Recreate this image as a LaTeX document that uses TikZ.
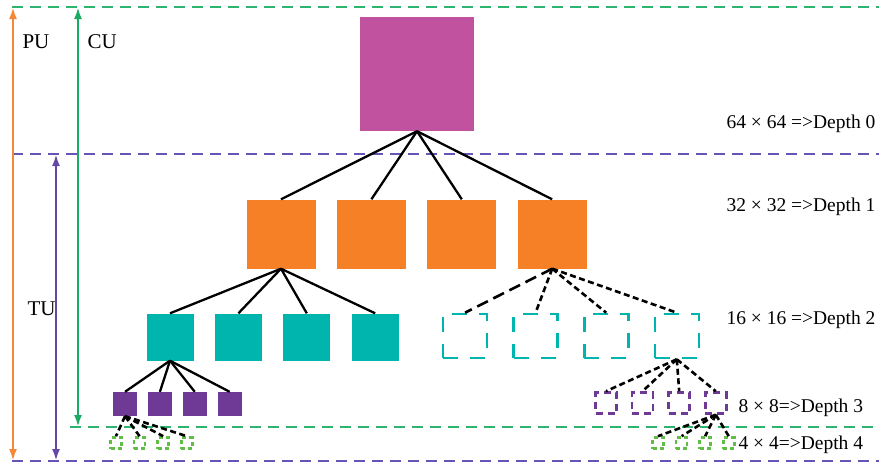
\documentclass[tikz,border=0pt]{standalone}
\usepackage{fontspec}
\setmainfont{Liberation Serif}
\usetikzlibrary{arrows.meta,positioning}
\definecolor{ctumagenta}{RGB}{193,82,160}
\definecolor{ctuorange}{RGB}{245,128,37}
\definecolor{ctuteal}{RGB}{0,181,173}
\definecolor{ctupurple}{RGB}{111,57,150}
\definecolor{leafgreen}{RGB}{96,190,72}
\definecolor{levelgreen}{RGB}{45,180,110}
\definecolor{levelpurple}{RGB}{104,84,182}
\definecolor{puorange}{RGB}{245,135,55}
\definecolor{cugreen}{RGB}{25,170,100}
\definecolor{tupurple}{RGB}{100,72,165}

\begin{document}
\begin{tikzpicture}[x=1pt, y=-1pt,
      blk/.style={inner sep=0pt, minimum size=#1},
      hollow/.style={blk=#1, draw, line width=2.6pt},
      tree/.style={line width=2.3pt},
      split/.style={line width=2.6pt, dash pattern=on 6pt off 3.5pt},
      level/.style={line width=2.6pt, dash pattern=on 11pt off 7pt},
      span/.style={{Latex[length=12pt,width=8pt]}-{Latex[length=12pt,width=8pt]}, line width=2.8pt},
      depth/.style={anchor=base west, font=\fontsize{19.5}{24}\selectfont},
      unit/.style={anchor=base west, font=\fontsize{21}{25}\selectfont}
    ]
      \useasboundingbox (0,0) rectangle (879,464);

      \draw[level, levelgreen] (12,7) -- (879,7);
      \draw[level, levelpurple] (12,154) -- (879,154);
      \draw[level, levelgreen] (70,427) -- (879,427);
      \draw[level, levelpurple] (12,461) -- (879,461);

      \coordinate (pu top) at (13,7);
      \coordinate (pu bot) at (13,461);
      \coordinate (cu top) at (78,7);
      \coordinate (cu bot) at (78,427);
      \coordinate (tu top) at (56,154);
      \coordinate (tu bot) at (56,461);
      \draw[span, puorange] (pu bot) -- (pu top);
      \draw[span, cugreen] (cu bot) -- (cu top);
      \draw[span, tupurple] (tu bot) -- (tu top);
      \node[unit] (pu) at (19,48) {PU};
      \node[unit] (cu) at (84,48) {CU};
      \node[unit] (tu) at (24,315) {TU};

      \node[blk=114pt, fill=ctumagenta] (d0) at (417,74) {};

      \node[blk=69pt, fill=ctuorange] (d1a) at (281,234) {};
      \node[blk=69pt, fill=ctuorange, right=21pt of d1a] (d1b) {};
      \node[blk=69pt, fill=ctuorange, right=21pt of d1b] (d1c) {};
      \node[blk=69pt, fill=ctuorange, right=21pt of d1c] (d1d) {};

      \node[blk=47pt, fill=ctuteal] (d2a) at (170,337) {};
      \node[blk=47pt, fill=ctuteal, right=21pt of d2a] (d2b) {};
      \node[blk=47pt, fill=ctuteal, right=21pt of d2b] (d2c) {};
      \node[blk=47pt, fill=ctuteal, right=21pt of d2c] (d2d) {};
      \node[hollow=44pt, ctuteal, dash pattern=on 15pt off 12pt] (d2e) at (465,336) {};
      \node[hollow=44pt, ctuteal, dash pattern=on 15pt off 12pt, right=24pt of d2e] (d2f) {};
      \node[hollow=44pt, ctuteal, dash pattern=on 15pt off 12pt, right=24pt of d2f] (d2g) {};
      \node[hollow=44pt, ctuteal, dash pattern=on 15pt off 12pt, right=24pt of d2g] (d2h) {};

      \node[blk=24pt, fill=ctupurple] (d3a) at (125,404) {};
      \node[blk=24pt, fill=ctupurple, right=10.5pt of d3a] (d3b) {};
      \node[blk=24pt, fill=ctupurple, right=10.5pt of d3b] (d3c) {};
      \node[blk=24pt, fill=ctupurple, right=10.5pt of d3c] (d3d) {};
      \node[hollow=21pt, ctupurple, dash pattern=on 7pt off 5pt] (d3e) at (606,403) {};
      \node[hollow=21pt, ctupurple, dash pattern=on 7pt off 5pt, right=13pt of d3e] (d3f) {};
      \node[hollow=21pt, ctupurple, dash pattern=on 7pt off 5pt, right=13pt of d3f] (d3g) {};
      \node[hollow=21pt, ctupurple, dash pattern=on 7pt off 5pt, right=13pt of d3g] (d3h) {};

      \node[hollow=11pt, leafgreen, dash pattern=on 4pt off 3pt] (d4a) at (116,443) {};
      \node[hollow=11pt, leafgreen, dash pattern=on 4pt off 3pt, right=10pt of d4a] (d4b) {};
      \node[hollow=11pt, leafgreen, dash pattern=on 4pt off 3pt, right=10pt of d4b] (d4c) {};
      \node[hollow=11pt, leafgreen, dash pattern=on 4pt off 3pt, right=10pt of d4c] (d4d) {};
      \node[hollow=11pt, leafgreen, dash pattern=on 4pt off 3pt] (d4e) at (658,443) {};
      \node[hollow=11pt, leafgreen, dash pattern=on 4pt off 3pt, right=10pt of d4e] (d4f) {};
      \node[hollow=11pt, leafgreen, dash pattern=on 4pt off 3pt, right=10pt of d4f] (d4g) {};
      \node[hollow=11pt, leafgreen, dash pattern=on 4pt off 3pt, right=10pt of d4g] (d4h) {};

      \draw[tree] (d0.south) -- (d1a.north);
      \draw[tree] (d0.south) -- (d1b.north);
      \draw[tree] (d0.south) -- (d1c.north);
      \draw[tree] (d0.south) -- (d1d.north);
      \draw[tree] (d1a.south) -- (d2a.north);
      \draw[tree] (d1a.south) -- (d2b.north);
      \draw[tree] (d1a.south) -- (d2c.north);
      \draw[tree] (d1a.south) -- (d2d.north);
      \draw[tree] (d2a.south) -- (d3a.north);
      \draw[tree] (d2a.south) -- (d3b.north);
      \draw[tree] (d2a.south) -- (d3c.north);
      \draw[tree] (d2a.south) -- (d3d.north);

      \draw[split, dash pattern=on 12pt off 6pt] (d1d.south) -- (d2e.north);
      \draw[split] (d1d.south) -- (d2f.north);
      \draw[split] (d1d.south) -- (d2g.north);
      \draw[split] (d1d.south) -- (d2h.north);
      \draw[split] (d2h.south) -- (d3e.north);
      \draw[split] (d2h.south) -- (d3f.north);
      \draw[split] (d2h.south) -- (d3g.north);
      \draw[split] (d2h.south) -- (d3h.north);
      \draw[split] (d3a.south) -- (d4a.north);
      \draw[split] (d3a.south) -- (d4b.north);
      \draw[split] (d3a.south) -- (d4c.north);
      \draw[split] (d3a.south) -- (d4d.north);
      \draw[split] (d3h.south) -- (d4e.north);
      \draw[split] (d3h.south) -- (d4f.north);
      \draw[split] (d3h.south) -- (d4g.north);
      \draw[split] (d3h.south) -- (d4h.north);

      \node[depth] (t0) at (723,128) {64 × 64 =>Depth 0};
      \node[depth] (t1) at (723,211) {32 × 32 =>Depth 1};
      \node[depth] (t2) at (723,324) {16 × 16 =>Depth 2};
      \node[depth] (t3) at (735,412) {8 × 8=>Depth 3};
      \node[depth] (t4) at (735,449) {4 × 4=>Depth 4};
    \end{tikzpicture}
\end{document}
